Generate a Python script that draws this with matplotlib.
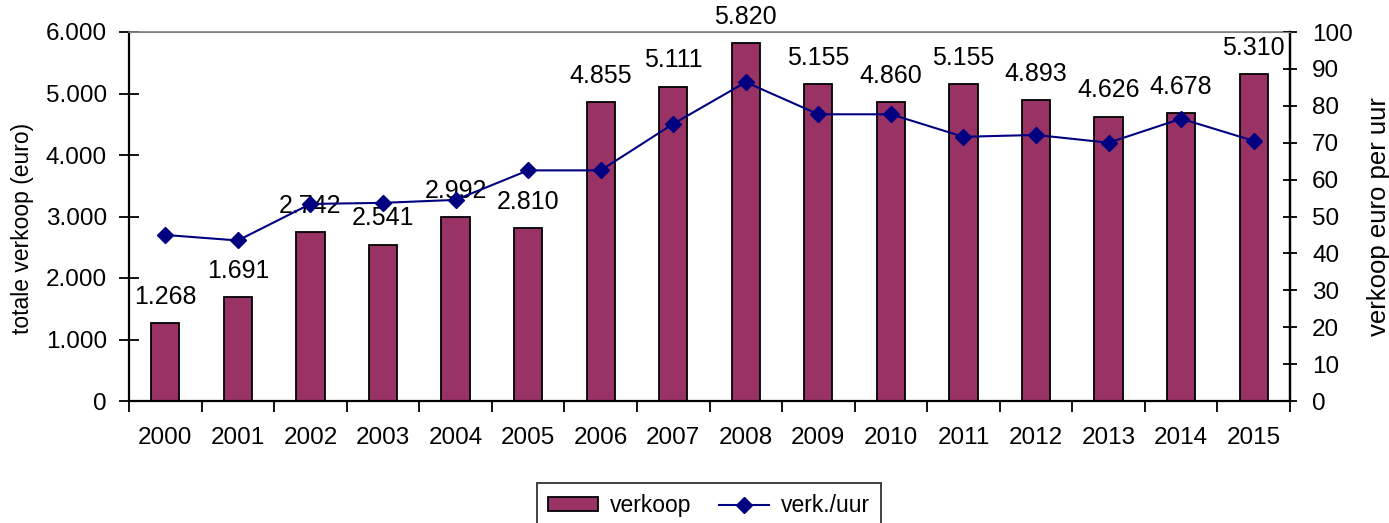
import matplotlib
matplotlib.use("Agg")
import matplotlib.pyplot as plt
import numpy as np
from matplotlib.ticker import FixedLocator, FuncFormatter

plt.rcParams['font.family'] = ['Liberation Sans', 'DejaVu Sans']

years = ["2000", "2001", "2002", "2003", "2004", "2005", "2006", "2007",
         "2008", "2009", "2010", "2011", "2012", "2013", "2014", "2015"]
verkoop = [1268, 1691, 2742, 2541, 2992, 2810, 4855, 5111,
           5820, 5155, 4860, 5155, 4893, 4626, 4678, 5310]
verk_uur = [45.0, 43.5, 53.4, 53.7, 54.5, 62.5, 62.5, 75.1,
            86.4, 77.7, 77.7, 71.6, 72.1, 70.0, 76.5, 70.5]

W, H = 1389, 523
L, R, T, B = 129, 1290, 32, 401
fig = plt.figure(figsize=(W/100, H/100), dpi=100)
ax = fig.add_axes([L/W, 1-B/H, (R-L)/W, (B-T)/H])
x = np.arange(len(years))
ax.bar(x, verkoop, width=0.39, color='#993366', edgecolor='black',
       linewidth=1.3, label='verkoop', zorder=2)
ax.set_xlim(-0.5, len(years)-0.5)
ax.set_ylim(0, 6000)
ax.set_yticks(range(0, 6001, 1000))
ax.yaxis.set_major_formatter(FuncFormatter(lambda v, p: f"{int(v):,}".replace(",", ".")))
ax.set_xticks(x)
ax.set_xticklabels(years)
ax.xaxis.set_minor_locator(FixedLocator(np.arange(-0.5, len(years), 1.0)))
ax.tick_params(axis='x', which='major', length=0, pad=19, labelsize=17.5)
ax.tick_params(axis='x', which='minor', length=8, direction='out', width=1.3)
ax.tick_params(axis='y', length=14, direction='inout', width=1.3, labelsize=17.5, pad=9)
ax.set_ylabel('totale verkoop (euro)', fontsize=16.5)
ax.yaxis.set_label_coords((34 - L) / (R - L), (B - 228) / (B - T))

for sp in ['left', 'bottom', 'right']:
    ax.spines[sp].set_linewidth(1.6)
ax.spines['top'].set_color('#808080')
ax.spines['top'].set_linewidth(1.2)

for xi, v in zip(x, verkoop):
    ax.annotate(f"{v:,}".replace(",", "."), (xi, v), xytext=(0, 14),
                textcoords='offset points', ha='center', va='baseline',
                fontsize=18, annotation_clip=False, zorder=3)

ax2 = ax.twinx()
ax2.plot(x, verk_uur, color='#000080', marker='D', markersize=8.5,
         linewidth=1.5, label='verk./uur', zorder=4)
ax2.set_ylim(0, 100)
ax2.set_yticks(range(0, 101, 10))
ax2.tick_params(axis='y', length=10, direction='inout', width=1.3, labelsize=17.5, pad=11)
ax2.set_ylabel('verkoop euro per uur', fontsize=18.5, labelpad=10)
ax2.spines['right'].set_linewidth(1.6)
ax2.spines['top'].set_color('#808080')
ax2.spines['left'].set_visible(False)
ax2.spines['bottom'].set_visible(False)

h1, l1 = ax.get_legend_handles_labels()
h2, l2 = ax2.get_legend_handles_labels()
leg = fig.legend(h1 + h2, l1 + l2, loc='upper center', ncol=2,
                 bbox_to_anchor=(709/W, 1-483/H), fontsize=16.5,
                 frameon=True, fancybox=False, edgecolor='black',
                 handlelength=2.2, handleheight=0.55, handletextpad=0.5,
                 columnspacing=1.2, borderpad=0.5, borderaxespad=0)
leg.get_frame().set_linewidth(1.3)

fig.savefig('out.png', dpi=100)
